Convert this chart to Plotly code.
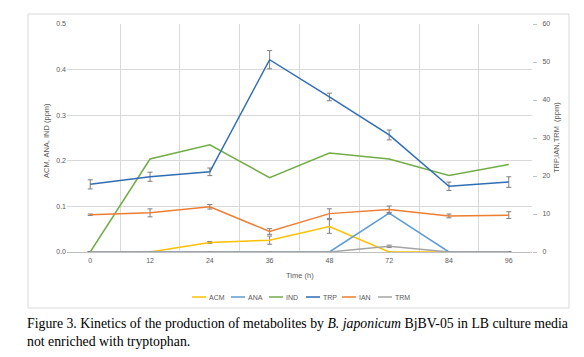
import plotly.graph_objects as go

hours = ["0", "12", "24", "36", "48", "72", "84", "96"]

# left axis series (ppm)
acm = [0, 0, 0.021, 0.026, 0.056, 0, 0, 0]
acm_err = [0, 0, 0.002, 0.009, 0.015, 0, 0, 0]
ana = [0, 0, 0, 0, 0, 0.085, 0, 0]
ana_err = [0, 0, 0, 0, 0, 0.002, 0, 0]
ind = [0, 0.204, 0.235, 0.163, 0.217, 0.204, 0.168, 0.192]

# right axis series (ppm)
trp = [17.8, 19.8, 21.1, 50.6, 40.8, 30.8, 17.3, 18.4]
trp_err = [1.2, 1.2, 1.0, 2.4, 1.0, 1.3, 1.1, 1.4]
ian = [9.8, 10.3, 11.9, 5.4, 10.1, 11.2, 9.5, 9.7]
ian_err = [0.2, 1.05, 0.6, 0.75, 1.27, 0.9, 0.5, 0.9]
trm = [0, 0, 0, 0, 0, 1.5, 0, 0]
trm_err = [0, 0, 0, 0, 0, 0.3, 0, 0]

left_ticks = [0.0, 0.1, 0.2, 0.3, 0.4, 0.5]
right_ticks = [0, 10, 20, 30, 40, 50, 60]

series_names = ["ACM", "ANA", "IND", "TRP", "IAN", "TRM"]
colors = {
    "ACM": "#FFC000",
    "ANA": "#5B9BD5",
    "IND": "#70AD47",
    "TRP": "#2F6DB5",
    "IAN": "#ED7D31",
    "TRM": "#A5A5A5",
}

ERR = "#7F7F7F"
GRAY_TXT = "#595959"


def err(vals):
    return dict(type="data", array=vals, visible=True, color=ERR, thickness=1, width=2.5)


fig = go.Figure()
fig.add_trace(go.Scatter(x=hours, y=acm, name="ACM", mode="lines",
                         line=dict(color=colors["ACM"], width=1.5), error_y=err(acm_err)))
fig.add_trace(go.Scatter(x=hours, y=ana, name="ANA", mode="lines",
                         line=dict(color=colors["ANA"], width=1.5), error_y=err(ana_err)))
fig.add_trace(go.Scatter(x=hours, y=ind, name="IND", mode="lines",
                         line=dict(color=colors["IND"], width=1.5)))
fig.add_trace(go.Scatter(x=hours, y=trp, name="TRP", mode="lines", yaxis="y2",
                         line=dict(color=colors["TRP"], width=1.5), error_y=err(trp_err)))
fig.add_trace(go.Scatter(x=hours, y=ian, name="IAN", mode="lines", yaxis="y2",
                         line=dict(color=colors["IAN"], width=1.5), error_y=err(ian_err)))
fig.add_trace(go.Scatter(x=hours, y=trm, name="TRM", mode="lines", yaxis="y2",
                         line=dict(color=colors["TRM"], width=1.5), error_y=err(trm_err)))

tickfont = dict(family="Liberation Sans, Arial, sans-serif", size=7, color=GRAY_TXT)
titlefont = dict(family="Liberation Sans, Arial, sans-serif", size=7.5, color=GRAY_TXT)

# plot area: 465 x 228 px
PW, PH = 465.0, 228.0

fig.update_layout(
    width=576, height=349,
    margin=dict(l=59, r=52, t=16, b=105),
    paper_bgcolor="white", plot_bgcolor="white",
    font=tickfont,
    showlegend=False,
    xaxis=dict(type="category", tickson="boundaries", showgrid=True,
               gridcolor="#D9D9D9", gridwidth=1, ticks="",
               showline=True, linecolor="#BFBFBF", linewidth=1,
               tickfont=tickfont, ticklabelstandoff=2, zeroline=False),
    yaxis=dict(range=[0, 0.5], tickvals=left_ticks, tickformat=".1f",
               showgrid=True, gridcolor="#D9D9D9", zeroline=False,
               showline=False, ticks="", ticklen=0, ticklabelstandoff=0, tickfont=tickfont),
    yaxis2=dict(range=[0, 60], tickvals=right_ticks, overlaying="y", side="right",
                showgrid=False, zeroline=False, showline=False,
                ticks="outside", ticklen=4, tickcolor="#BFBFBF",
                ticklabelstandoff=4, tickfont=tickfont),
)

# axis titles
fig.add_annotation(xref="paper", yref="paper", x=(46 - 67) / PW, y=(252 - 141) / PH, textangle=-90,
                   showarrow=False, xanchor="center", yanchor="middle",
                   text="ACM, ANA, IND (ppm)", font=titlefont)
fig.add_annotation(xref="paper", yref="paper", x=(556 - 67) / PW, y=(252 - 138) / PH, textangle=-90,
                   showarrow=False, xanchor="center", yanchor="middle",
                   text="TRP,IAN,TRM  (ppm)", font=titlefont)
fig.add_annotation(xref="paper", yref="paper", x=0.5, y=(252 - 275) / PH,
                   showarrow=False, xanchor="center", yanchor="middle",
                   text="Time (h)", font=titlefont)

# legend (drawn manually to match the compact legend keys)
legend_x = [192, 231, 269, 306, 342, 378]
legend_y = (252 - 297) / PH
for name, lx in zip(series_names, legend_x):
    fig.add_shape(type="line", xref="paper", yref="paper",
                  x0=(lx - 67) / PW, x1=(lx + 14 - 67) / PW, y0=legend_y, y1=legend_y,
                  line=dict(color=colors[name], width=1.5))
    fig.add_annotation(xref="paper", yref="paper", x=(lx + 15 - 67) / PW, y=legend_y,
                       showarrow=False, xanchor="left", yanchor="middle",
                       text=name, font=tickfont)

# chart area border
fig.add_shape(type="rect", xref="paper", yref="paper",
              x0=(28 - 67) / PW, x1=(569 - 67) / PW, y0=(252 - 308) / PH, y1=(252 - 14) / PH,
              line=dict(color="#D9D9D9", width=1), fillcolor="rgba(0,0,0,0)", layer="below")

cap_font = dict(family="Liberation Serif, Times New Roman, serif", size=13.8, color="black")
fig.add_annotation(xref="paper", yref="paper", x=(25 - 67) / PW, y=(252 - 314) / PH,
                   xanchor="left", yanchor="top",
                   showarrow=False, align="left", font=cap_font,
                   text="Figure 3. Kinetics of the production of metabolites by <i>B. japonicum</i> BjBV-05 in LB culture media<br>not enriched with tryptophan.")

fig.write_html("out.html")
